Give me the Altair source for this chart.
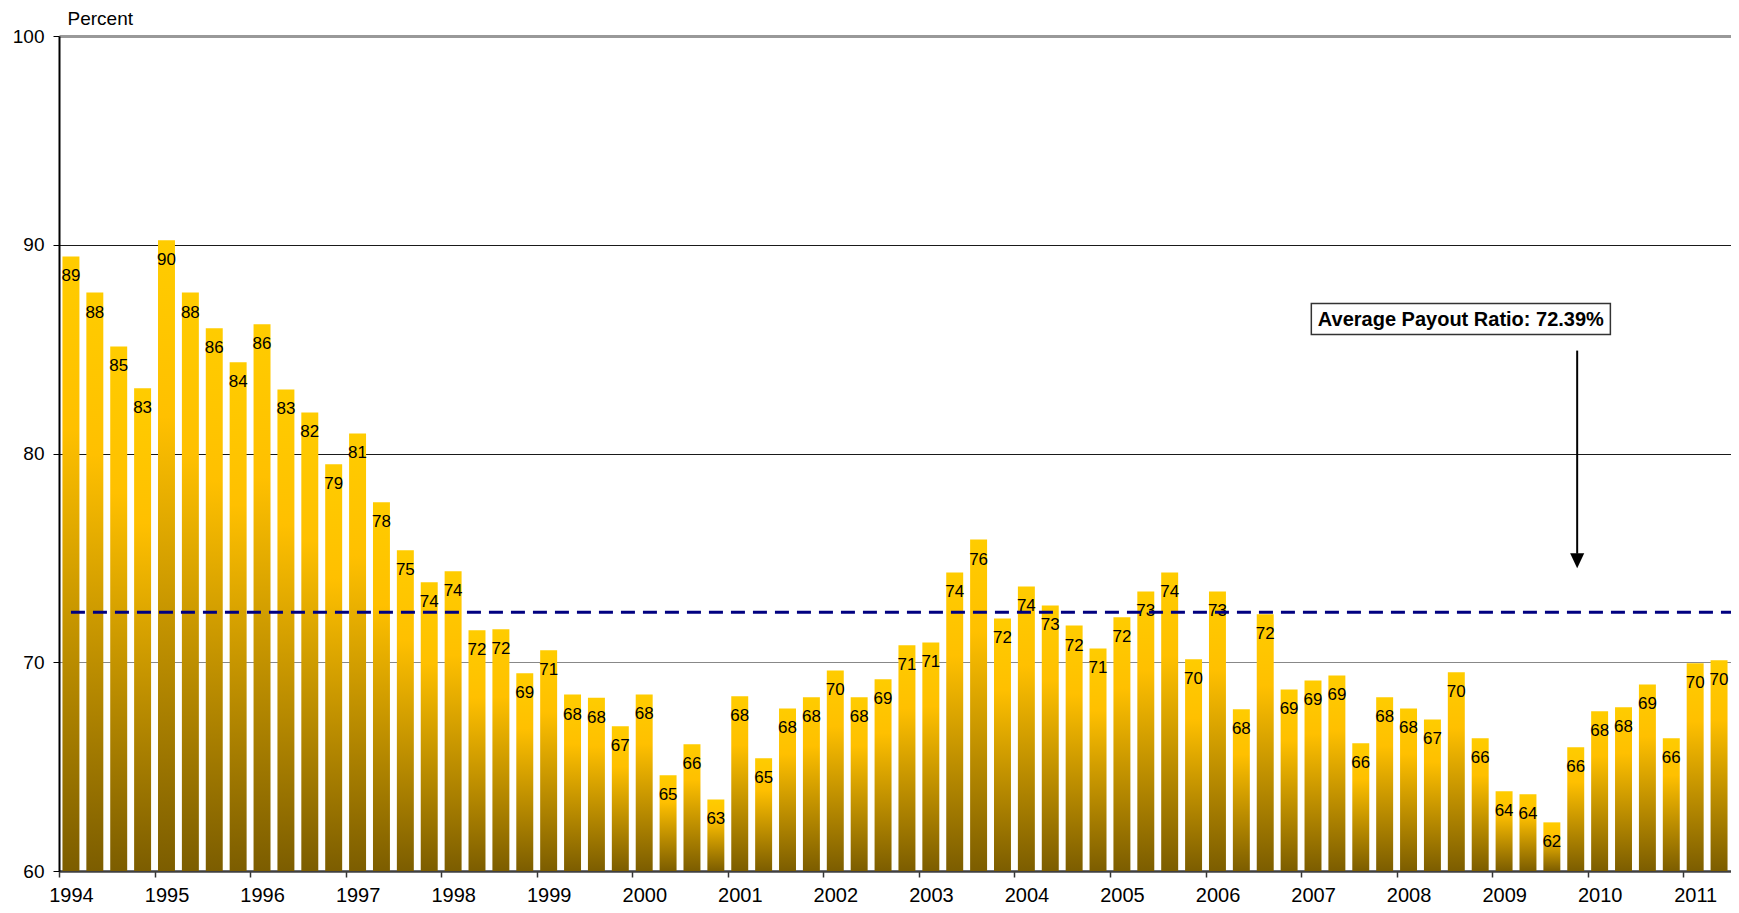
import altair as alt
import pandas as pd

# Quarterly payout ratio, 1994 Q1 .. 2011 Q2
years = list(range(1994, 2012))
values = [
    89.44, 87.71, 85.13, 83.12,   # 1994
    90.21, 87.71, 86.00, 84.37,   # 1995
    86.19, 83.07, 81.97, 79.48,   # 1996
    80.96, 77.66, 75.36, 73.83,   # 1997
    74.36, 71.53, 71.58, 69.47,   # 1998
    70.57, 68.45, 68.30, 66.93,   # 1999
    68.46, 64.59, 66.07, 63.43,   # 2000
    68.37, 65.40, 67.79, 68.32,   # 2001
    69.61, 68.32, 69.18, 70.81,   # 2002
    70.95, 74.30, 75.88, 72.10,   # 2003
    73.63, 72.72, 71.76, 70.66,   # 2004
    72.15, 73.39, 74.30, 70.14,   # 2005
    73.39, 67.75, 72.30, 68.70,   # 2006
    69.13, 69.37, 66.12, 68.32,   # 2007
    67.79, 67.26, 69.52, 66.36,   # 2008
    63.82, 63.68, 62.33, 65.93,   # 2009
    67.65, 67.84, 68.94, 66.36,   # 2010
    69.95, 70.10,                 # 2011
]
average = 72.39
y_ticks = [60, 70, 80, 90, 100]
note_text = "Average Payout Ratio: 72.39%"

df = pd.DataFrame({"i": list(range(len(values))), "v": values})

FONT = "Arial, Liberation Sans"

x_scale = alt.Scale(domain=[0, len(values)], nice=False, zero=False)
y_scale = alt.Scale(domain=[60, 100], nice=False, zero=False)

x_axis = alt.Axis(
    values=[k * 4 for k in range(len(years))],
    labelExpr="'' + (1994 + datum.value / 4)",
    labelOffset=12,
    labelFontSize=20,
    labelFont=FONT,
    labelColor="#000000",
    labelBaseline="alphabetic",
    labelPadding=24,
    tickSize=6,
    tickColor="#333333",
    tickWidth=1.5,
    domainColor="#404040",
    domainWidth=2.5,
    grid=False,
    title=None,
    labelFlush=False,
    labelOverlap=False,
)

y_axis = alt.Axis(
    values=y_ticks,
    title="Percent",
    titleAngle=0,
    titleAlign="left",
    titleBaseline="middle",
    titleX=8,
    titleY=-18,
    titleFontSize=19,
    titleFontWeight="normal",
    titleFont=FONT,
    titleColor="#000000",
    labelFontSize=19,
    labelFont=FONT,
    labelColor="#000000",
    labelPadding=9,
    tickSize=6,
    tickColor="#000000",
    domainColor="#000000",
    domainWidth=2,
    grid=True,
    gridColor={
        "condition": [
            {"test": "datum.value == 100", "value": "#999999"},
            {"test": "datum.value == 70", "value": "#888888"},
        ],
        "value": "#1a1a1a",
    },
    gridWidth={"condition": {"test": "datum.value == 100", "value": 3}, "value": 1.2},
)

gradient = alt.Gradient(
    gradient="linear",
    x1=0, x2=0, y1=0, y2=1,
    stops=[
        alt.GradientStop(color="#FFCC00", offset=0),
        alt.GradientStop(color="#FFC000", offset=0.28),
        alt.GradientStop(color="#7C5D00", offset=1),
    ],
)

base = alt.Chart(df)

bars = base.mark_rect(fill=gradient).transform_calculate(
    x0="datum.i + 0.145", x1="datum.i + 0.855"
).encode(
    x=alt.X("x0:Q", scale=x_scale, axis=x_axis),
    x2="x1:Q",
    y=alt.Y("v:Q", scale=y_scale, axis=y_axis),
    y2=alt.datum(60),
)

labels = base.mark_text(
    fontSize=17, font=FONT, color="#000000", baseline="middle", align="center", dy=20
).transform_calculate(xc="datum.i + 0.5").encode(
    x=alt.X("xc:Q", scale=x_scale),
    y=alt.Y("v:Q", scale=y_scale),
    text=alt.Text("v:Q", format=".0f"),
)

# average line runs from the first bar centre to the right edge of the plot
avg_df = pd.DataFrame({"x": [0.5, float(len(values))], "avg": [average, average]})
avg_line = alt.Chart(avg_df).mark_line(
    color="#000080", strokeWidth=3, strokeDash=[14, 8]
).encode(
    x=alt.X("x:Q", scale=x_scale),
    y=alt.Y("avg:Q", scale=y_scale),
)

# annotation box, text and arrow (in data units)
note_df = pd.DataFrame({"x0": [52.43], "x1": [64.95], "y0": [85.70], "y1": [87.19],
                        "xt": [58.69], "yt": [86.45], "t": [note_text]})
note_box = alt.Chart(note_df).mark_rect(fill="white", stroke="#333333", strokeWidth=1.5).encode(
    x=alt.X("x0:Q", scale=x_scale), x2="x1:Q",
    y=alt.Y("y0:Q", scale=y_scale), y2="y1:Q",
)
note_txt = alt.Chart(note_df).mark_text(
    fontSize=20, fontWeight="bold", font=FONT, color="#000000", align="center", baseline="middle", dy=1
).encode(
    x=alt.X("xt:Q", scale=x_scale), y=alt.Y("yt:Q", scale=y_scale), text="t:N"
)

arrow_df = pd.DataFrame({"x": [63.56], "ytop": [84.93], "ybot": [75.2], "tip": [74.5]})
arrow_shaft = alt.Chart(arrow_df).mark_rule(color="#000000", strokeWidth=2).encode(
    x=alt.X("x:Q", scale=x_scale),
    y=alt.Y("ytop:Q", scale=y_scale), y2="ybot:Q",
)
arrow_head = alt.Chart(arrow_df).mark_point(
    shape="M-0.47,-1L0.47,-1L0,0Z", size=900, filled=True, color="#000000", opacity=1
).encode(
    x=alt.X("x:Q", scale=x_scale),
    y=alt.Y("tip:Q", scale=y_scale),
)

chart = alt.layer(
    bars, labels, avg_line, note_box, note_txt, arrow_shaft, arrow_head
).properties(
    width=1672,
    height=835,
    autosize=alt.AutoSizeParams(type="none"),
    padding={"left": 51, "top": 28, "right": 0, "bottom": 34},
    background="white",
).configure_view(stroke=None)

chart.save("out.html", embed_options={"renderer": "svg", "actions": False})
